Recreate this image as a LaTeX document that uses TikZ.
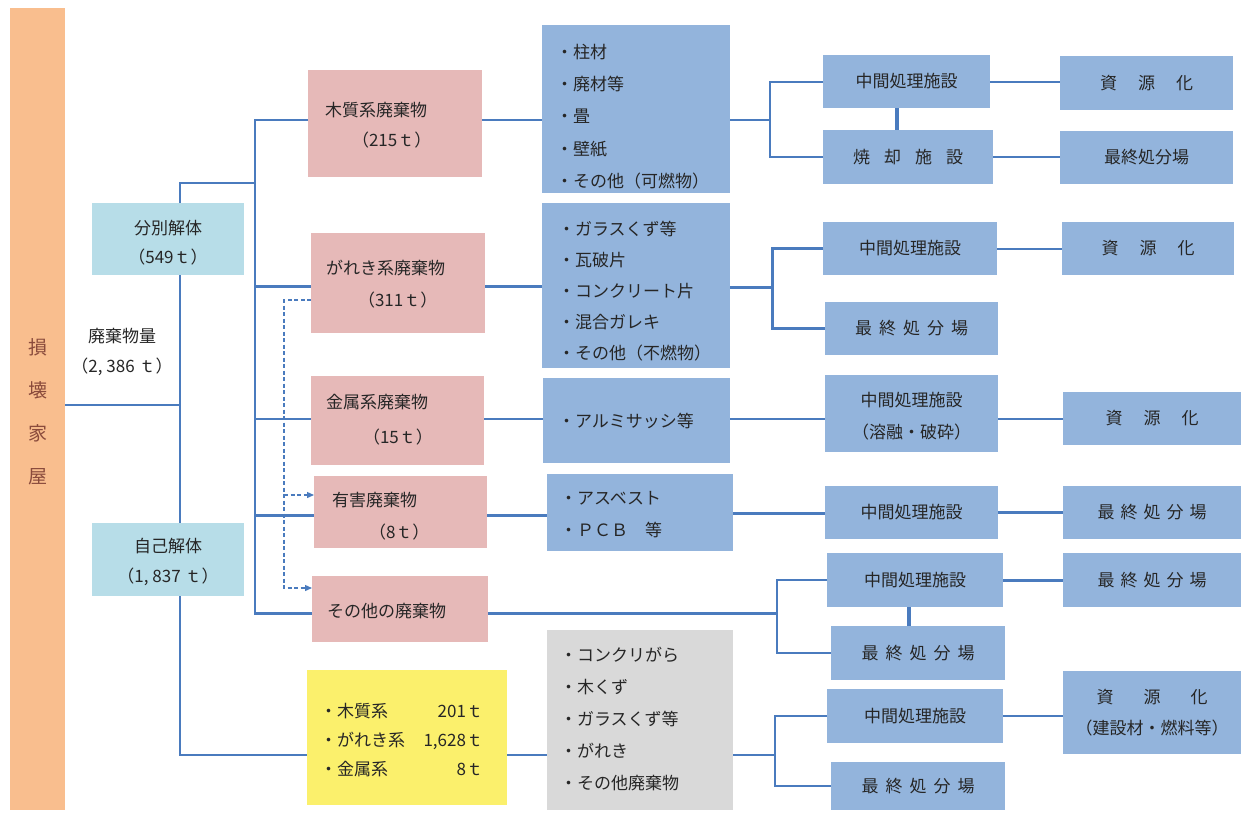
\documentclass[tikz,border=0pt]{standalone}
\usepackage{fontspec}
\setmainfont{Noto Sans CJK JP}
\usetikzlibrary{fit,arrows.meta}
\definecolor{cOrange}{HTML}{F9BE8E}
\definecolor{cCyan}{HTML}{B7DDE8}
\definecolor{cPink}{HTML}{E6B9B8}
\definecolor{cBlue}{HTML}{93B4DC}
\definecolor{cYellow}{HTML}{FBF06C}
\definecolor{cGray}{HTML}{D9D9D9}
\definecolor{cLine}{HTML}{4A7BBE}
\definecolor{cText}{HTML}{262626}
\definecolor{cBrown}{HTML}{8A4B3C}
\newcommand\gx[1]{\hspace{#1pt}}
\begin{document}
\begin{tikzpicture}[x=1pt,y=-1pt,
  bx/.style={inner sep=0pt, outer sep=0pt, draw=none},
  lbl/.style={inner sep=0pt, outer sep=0pt, text=cText, font=\fontsize{17}{#1}\selectfont, align=left, anchor=west},
  lbc/.style={inner sep=0pt, outer sep=0pt, text=cText, font=\fontsize{17}{#1}\selectfont, align=center},
  lthin/.style={draw=cLine, line width=1.3pt},
  lmed/.style={draw=cLine, line width=2pt},
  lthick/.style={draw=cLine, line width=3pt},
  lvert/.style={draw=cLine, line width=4pt},
  ldash/.style={draw=cLine, line width=1.3pt, dash pattern=on 4pt off 2.5pt},
  arrtip/.style={-{Triangle[length=7pt,width=6pt]}}]
\path[fill=white] (0,0) rectangle (1241,812);
\useasboundingbox (0,0) rectangle (1241,812);

% left bar
\node[bx, fill=cOrange, fit={(10,8)(65,810)}] (bar) {};
\node[lbc=43, text=cBrown, font=\fontsize{19}{43}\selectfont] (bartext) at (38,412) {損\\壊\\家\\屋};

% demolition type
\node[bx, fill=cCyan, fit={(92,203)(244,275)}] (bunbetsu) {};
\node[lbc=29] (bunbetsut) at (168,242.5) {分別解体\\（549ｔ）};
\node[bx, fill=cCyan, fit={(92,523)(244,596)}] (jiko) {};
\node[lbc=30] (jikot) at (168,562) {自己解体\\（1, 837 ｔ）};
\node[lbc=30] (amount) at (122,352) {廃棄物量\\（2, 386 ｔ）};

% pink waste boxes
\node[bx, fill=cPink, fit={(308,70)(482,177)}] (wood) {};
\node[lbl=30] (woodt) at (325,125) {木質系廃棄物\\\gx{27}（215ｔ）};
\node[bx, fill=cPink, fit={(311,233)(485,333)}] (gareki) {};
\node[lbl=32] (garekit) at (326,284) {がれき系廃棄物\\\gx{32}（311ｔ）};
\node[bx, fill=cPink, fit={(311,376)(484,465)}] (kinzoku) {};
\node[lbl=35] (kinzokut) at (326,420) {金属系廃棄物\\\gx{37}（15ｔ）};
\node[bx, fill=cPink, fit={(314,476)(487,548)}] (yugai) {};
\node[lbl=32] (yugait) at (332,516) {有害廃棄物\\\gx{37}（8ｔ）};
\node[bx, fill=cPink, fit={(312,576)(488,642)}] (sonota) {};
\node[lbl=20] (sonotat) at (327,611) {その他の廃棄物};

% list boxes
\node[bx, fill=cBlue, fit={(542,25)(730,193)}] (list1) {};
\node[lbl=32.25] (list1t) at (556,116.5) {・柱材\\・廃材等\\・畳\\・壁紙\\・その他（可燃物）};
\node[bx, fill=cBlue, fit={(542,203)(730,368)}] (list2) {};
\node[lbl=31] (list2t) at (558,291) {・ガラスくず等\\・瓦破片\\・コンクリート片\\・混合ガレキ\\・その他（不燃物）};
\node[bx, fill=cBlue, fit={(543,378)(730,463)}] (alumi) {};
\node[lbl=20] (alumit) at (558,421) {・アルミサッシ等};
\node[bx, fill=cBlue, fit={(547,474)(733,551)}] (asbe) {};
\node[lbl=32] (asbet) at (560,515) {・アスベスト\\・ＰＣＢ　等};
\node[bx, fill=cGray, fit={(547,630)(733,810)}] (gray) {};
\node[lbl=32] (grayt) at (560,719) {・コンクリがら\\・木くず\\・ガラスくず等\\・がれき\\・その他廃棄物};
\node[bx, fill=cYellow, fit={(307,670)(507,805)}] (yellow) {};
\node[lbl=29] (yellowt) at (320,741) {\begin{tabular*}{163pt}{@{}l@{\extracolsep{\fill}}r@{}}・木質系 & 201ｔ\\ ・がれき系 & 1,628ｔ\\ ・金属系 & 8ｔ\end{tabular*}};

% facility column
\node[bx, fill=cBlue, fit={(823,55)(990,108)}] (mid1) {};
\node[lbc=20] (mid1t) at (mid1.center) {中間処理施設};
\node[bx, fill=cBlue, fit={(823,130)(993,184)}] (shou) {};
\node[lbc=20] (shout) at (shou.center) {焼\gx{14}却\gx{14}施\gx{14}設};
\node[bx, fill=cBlue, fit={(823,222)(997,275)}] (mid2) {};
\node[lbc=20] (mid2t) at (mid2.center) {中間処理施設};
\node[bx, fill=cBlue, fit={(825,302)(998,355)}] (saishu2) {};
\node[lbc=20] (saishu2t) at (saishu2.center) {最\gx{7}終\gx{7}処\gx{7}分\gx{7}場};
\node[bx, fill=cBlue, fit={(825,375)(998,452)}] (mid3) {};
\node[lbc=32] (mid3t) at (911.5,416) {中間処理施設\\（溶融・破砕）};
\node[bx, fill=cBlue, fit={(825,486)(998,539)}] (mid4) {};
\node[lbc=20] (mid4t) at (mid4.center) {中間処理施設};
\node[bx, fill=cBlue, fit={(827,553)(1003,607)}] (mid5) {};
\node[lbc=20] (mid5t) at (mid5.center) {中間処理施設};
\node[bx, fill=cBlue, fit={(831,626)(1005,680)}] (saishuM) {};
\node[lbc=20] (saishuMt) at (saishuM.center) {最\gx{7}終\gx{7}処\gx{7}分\gx{7}場};
\node[bx, fill=cBlue, fit={(827,689)(1003,743)}] (mid6) {};
\node[lbc=20] (mid6t) at (mid6.center) {中間処理施設};
\node[bx, fill=cBlue, fit={(831,762)(1005,810)}] (saishuB) {};
\node[lbc=20] (saishuBt) at (saishuB.center) {最\gx{7}終\gx{7}処\gx{7}分\gx{7}場};

% result column
\node[bx, fill=cBlue, fit={(1060,56)(1233,110)}] (shigen1) {};
\node[lbc=20] (shigen1t) at (shigen1.center) {資\gx{21}源\gx{21}化};
\node[bx, fill=cBlue, fit={(1060,131)(1233,184)}] (saishu1) {};
\node[lbc=20] (saishu1t) at (saishu1.center) {最終処分場};
\node[bx, fill=cBlue, fit={(1062,222)(1234,275)}] (shigen2) {};
\node[lbc=20] (shigen2t) at (shigen2.center) {資\gx{21}源\gx{21}化};
\node[bx, fill=cBlue, fit={(1063,392)(1241,445)}] (shigen3) {};
\node[lbc=20] (shigen3t) at (shigen3.center) {資\gx{21}源\gx{21}化};
\node[bx, fill=cBlue, fit={(1063,486)(1241,539)}] (saishu4) {};
\node[lbc=20] (saishu4t) at (saishu4.center) {最\gx{6}終\gx{6}処\gx{6}分\gx{6}場};
\node[bx, fill=cBlue, fit={(1063,553)(1241,607)}] (saishu5) {};
\node[lbc=20] (saishu5t) at (saishu5.center) {最\gx{6}終\gx{6}処\gx{6}分\gx{6}場};
\node[bx, fill=cBlue, fit={(1063,671)(1241,754)}] (shigen6) {};
\node[lbc=31] (shigen6t) at (shigen6.center) {資\gx{30}源\gx{30}化\\（建設材・燃料等）};

% trunk connectors
\coordinate (jA) at (180,405);
\draw[lmed] (bar.east |- jA) -- (jA);
\draw[lmed] (bunbetsu.north -| jA) -- (180,183) -- (255,183);
\draw[lmed] (bunbetsu.south -| jA) -- (jiko.north -| jA);
\draw[lmed] (jiko.south -| jA) -- (180,755) -- (yellow.west |- 0,755);
\draw[lmed] (wood.west |- 0,120) -- (255,120) -- (255,613);
\draw[lthick] (254,286) -- (gareki.west |- 0,286);
\draw[lthin] (254,419) -- (kinzoku.west |- 0,419);
\draw[lthick] (254,515) -- (yugai.west |- 0,515);
\draw[lthick] (254,613) -- (sonota.west |- 0,613);

% dashed arrows
\draw[ldash, arrtip] (gareki.west |- 0,300) -| (284,588) -- (sonota.west |- 0,588);
\draw[ldash, arrtip] (284,495) -- (yugai.west |- 0,495);

% waste to lists
\draw[lmed] (wood.east |- 0,120) -- (list1.west |- 0,120);
\draw[lthick] (gareki.east |- 0,286) -- (list2.west |- 0,286);
\draw[lthin] (kinzoku.east |- 0,419) -- (alumi.west |- 0,419);
\draw[lthick] (yugai.east |- 0,515) -- (asbe.west |- 0,515);
\draw[lthick] (sonota.east |- 0,613) -- (777,613);
\draw[lmed] (yellow.east |- 0,755) -- (gray.west |- 0,755);

% lists to facilities
\draw[lmed] (list1.east |- 0,120) -- (770,120);
\draw[lmed] (mid1.west) -| (770,120) |- (shou.west);
\draw[lthick] (list2.east |- 0,287) -- (772,287);
\draw[lthick] (mid2.west) -| (772,287) |- (saishu2.west);
\draw[lthin] (alumi.east |- 0,419) -- (mid3.west |- 0,419);
\draw[lthick] (asbe.east |- 0,513) -- (mid4.west |- 0,513);
\draw[lmed] (mid5.west) -| (777,613) |- (saishuM.west);
\draw[lmed] (gray.east |- 0,755) -- (775,755);
\draw[lmed] (mid6.west) -| (775,755) |- (saishuB.west);

% facilities to results
\draw[lmed] (mid1.east) -- (shigen1.west |- mid1.east);
\draw[lmed] (shou.east) -- (saishu1.west |- shou.east);
\draw[lmed] (mid2.east) -- (shigen2.west |- mid2.east);
\draw[lmed] (mid3.east |- shigen3.west) -- (shigen3.west);
\draw[lthick] (mid4.east) -- (saishu4.west |- mid4.east);
\draw[lthick] (mid5.east) -- (saishu5.west |- mid5.east);
\draw[lmed] (mid6.east) -- (shigen6.west |- mid6.east);

% vertical links
\draw[lvert] (mid1.south -| 897,0) -- (shou.north -| 897,0);
\draw[lvert] (mid5.south -| 909,0) -- (saishuM.north -| 909,0);
\end{tikzpicture}
\end{document}
